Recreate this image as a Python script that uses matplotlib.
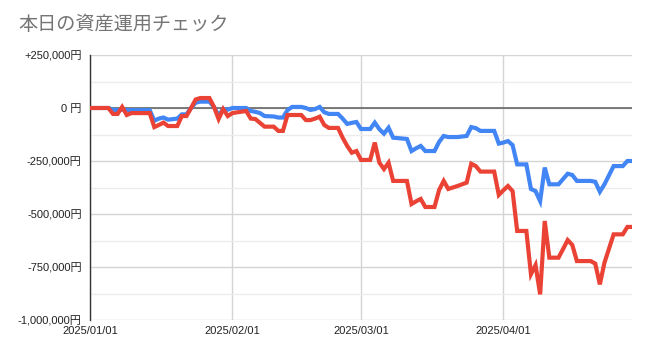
import pandas as pd
import matplotlib
matplotlib.use('Agg')
import matplotlib.pyplot as plt

plt.rcParams['font.family'] = ['Liberation Sans', 'Noto Sans CJK JP']

# days since 2025/01/01 where the lines change direction
days = [0, 4, 5, 6, 7, 8, 9, 13, 14, 15, 16, 17, 19, 20, 21, 22, 23, 24, 26, 27,
        28, 29, 30, 31, 34, 35, 36, 37, 38, 40, 41, 42, 43, 44, 46, 47, 48, 49, 50, 51,
        52, 54, 55, 56, 57, 58, 59, 61, 62, 63, 64, 65, 66, 69, 70, 71, 72, 73, 75, 76,
        77, 78, 80, 82, 83, 84, 85, 88, 89, 90, 91, 92, 93, 95, 96, 97, 98, 99, 100, 102,
        103, 104, 105, 106, 109, 110, 111, 112, 114, 116, 117, 118]

# values in thousand yen
blue = [0, 0, -8, -10, -8, -10, -10, -10, -60, -50, -45, -55, -50, -30, -30, 0, 25, 30, 30, 5,
        -35, -5, -8, 0, 0, -14, -18, -24, -38, -40, -45, -45, -10, 5, 5, 0, -9, -5, 5, -20,
        -28, -28, -50, -75, -70, -66, -99, -99, -69, -100, -121, -93, -140, -146, -203, -190, -179, -203, -203, -160,
        -132, -137, -137, -132, -90, -95, -108, -108, -168, -163, -156, -175, -266, -266, -382, -392, -439, -281, -360, -360,
        -335, -310, -316, -344, -344, -348, -395, -360, -274, -274, -250, -250]

red = [0, 0, -28, -28, 5, -33, -24, -24, -90, -80, -69, -85, -85, -38, -38, 0, 40, 47, 47, 5,
       -52, -5, -38, -24, -14, -50, -52, -70, -88, -88, -108, -108, -33, -33, -33, -57, -57, -50, -41, -80,
       -94, -94, -140, -179, -211, -203, -245, -245, -163, -258, -288, -258, -344, -344, -453, -440, -429, -467, -467, -387,
       -344, -382, -368, -352, -263, -274, -300, -300, -410, -388, -368, -392, -580, -580, -784, -741, -879, -533, -706, -706,
       -665, -623, -646, -722, -722, -734, -832, -730, -596, -596, -561, -561]

y_ticks = [250000, 0, -250000, -500000, -750000, -1000000]
y_labels = ['+250,000円', '0 円', '-250,000円', '-500,000円', '-750,000円', '-1,000,000円']
x_ticks = ['2025-01-01', '2025-02-01', '2025-03-01', '2025-04-01']
x_labels = ['2025/01/01', '2025/02/01', '2025/03/01', '2025/04/01']

dates = pd.to_datetime('2025-01-01') + pd.to_timedelta(days, unit='D')

fig = plt.figure(figsize=(6.5, 3.56), dpi=100)
ax = fig.add_axes([90 / 650, 1 - 320 / 356, 542 / 650, 265 / 356])

ax.plot(dates, [v * 1000 for v in blue], color='#4285F4', lw=3, solid_joinstyle='miter', zorder=3)
ax.plot(dates, [v * 1000 for v in red], color='#EA4335', lw=3, solid_joinstyle='miter', zorder=4)

ax.axhline(0, color='#666666', lw=1.2, zorder=2)

ax.set_ylim(-1000000, 250000)
ax.set_xlim(dates[0], dates[-1])
ax.set_yticks(y_ticks)
ax.set_yticklabels(y_labels)
ax.set_yticks([125000, -125000, -375000, -625000, -875000], minor=True)
ax.set_xticks(pd.to_datetime(x_ticks))
ax.set_xticklabels(x_labels)

ax.grid(True, which='major', color='#d4d4d4', lw=1)
ax.grid(True, which='minor', axis='y', color='#ececec', lw=1)
ax.set_axisbelow(True)

ax.tick_params(axis='both', which='both', length=0, labelsize=8, colors='#222222')
ax.tick_params(axis='y', pad=6)
ax.tick_params(axis='x', pad=4)

for s in ['top', 'right', 'bottom']:
    ax.spines[s].set_visible(False)
ax.spines['left'].set_color('#333333')
ax.spines['left'].set_linewidth(1)

fig.text(18 / 650, 1 - 25 / 356, '本日の資産運用チェック', fontsize=13.8, color='#757575',
         va='center', ha='left', family=['Noto Sans CJK JP'])

fig.savefig('out.png', dpi=100)
